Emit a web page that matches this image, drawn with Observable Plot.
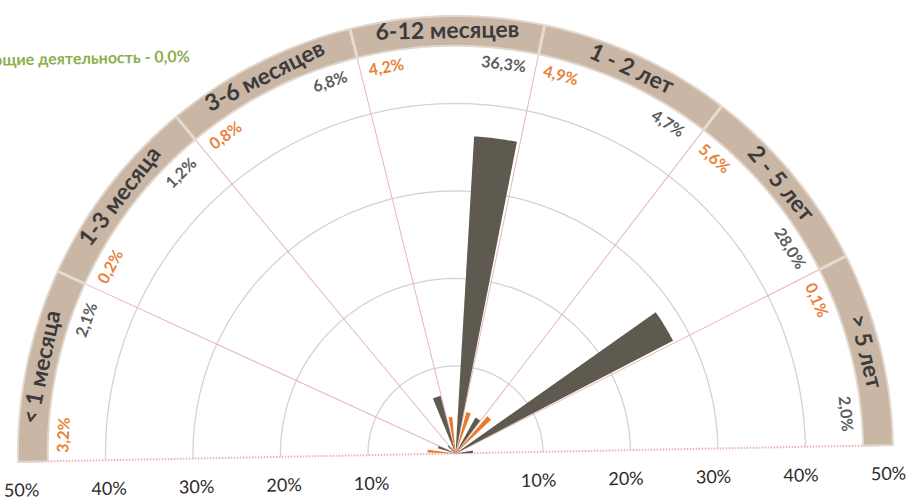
<!DOCTYPE html>
<html>
<head>
<meta charset="utf-8">
<script src="https://cdn.jsdelivr.net/npm/d3@7"></script>
<script src="https://cdn.jsdelivr.net/npm/@observablehq/plot@0.6"></script>
<style>
  html, body { margin: 0; padding: 0; background: #ffffff; }
  #chart svg { display: block; transform: rotate(-1.1deg); transform-origin: 455px 453px; }
</style>
</head>
<body>
<div id="chart"></div>
<script>
// ---- data ----
const categories = ["< 1 месяца", "1-3 месяца", "3-6 месяцев", "6-12 месяцев", "1 - 2 лет", "2 - 5 лет", "> 5 лет"];
const orangeValues = [3.2, 0.2, 0.8, 4.2, 4.9, 5.6, 0.1];
const grayValues = [2.1, 1.2, 6.8, 36.3, 4.7, 28.0, 2.0];
const gridTicks = [10, 20, 30, 40];
const axisTicks = [10, 20, 30, 40, 50];
const noteText = "Компании, прекращающие деятельность - 0,0%";

// ---- geometry helpers ----
const cx = 455, cy = 453, R = 437.5;   // pixel centre and radius of 50%
const bandInner = 46.6, bandOuter = 50, labelR = 44.8, catR = 48.3;
const step = 180 / categories.length;
const rad = a => a * Math.PI / 180;
const px = (r, a) => r * Math.cos(rad(a));
const py = (r, a) => r * Math.sin(rad(a));
const fmt = v => v.toFixed(1).replace(".", ",") + "%";

function arc(r, a1, a2, n = 60) {
  const pts = [];
  for (let i = 0; i <= n; i++) {
    const a = a1 + (a2 - a1) * i / n;
    pts.push({x: px(r, a), y: py(r, a)});
  }
  return pts;
}

// grid arcs
const gridPts = gridTicks.flatMap(t => arc(t, 0, 180, 120).map(p => ({...p, z: t})));

// band annulus
const bandPts = [...arc(bandOuter, 0, 180, 180), ...arc(bandInner, 180, 0, 180)];

// sector edges
const edges = d3.range(1, categories.length).map(i => 180 - step * i);

// bars (wedges)
function wedge(v, a1, a2, id) {
  return [{x: 0, y: 0, id}, ...arc(v, a1, a2, 16).map(p => ({...p, id}))];
}
const orangeBars = categories.flatMap((c, i) => {
  const high = 180 - step * i;
  return wedge(orangeValues[i], high - 9, high - 3, "o" + i);
});
const grayBars = categories.flatMap((c, i) => {
  const low = 180 - step * (i + 1);
  return wedge(grayValues[i], low + 0.6, low + 8.4, "g" + i);
});

// value labels
const valueLabels = categories.flatMap((c, i) => {
  const high = 180 - step * i, low = 180 - step * (i + 1);
  const ao = high - 3.8, ag = low + 4.7;
  return [
    {x: px(labelR, ao), y: py(labelR, ao), text: fmt(orangeValues[i]), rot: 90 - ao, color: "#e8823a"},
    {x: px(labelR, ag), y: py(labelR, ag), text: fmt(grayValues[i]), rot: 90 - ag, color: "#5c5c5c"}
  ];
});

// category labels
const catLabels = categories.map((c, i) => {
  const a = 180 - step * (i + 0.5);
  return {x: px(catR, a), y: py(catR, a), text: c, rot: 90 - a};
});

// bottom axis labels
const axisLabels = [
  ...axisTicks.map(t => ({x: -t, text: t + "%", side: "left"})),
  ...axisTicks.map(t => ({x: t, text: t + "%", side: "right"}))
];

const chart = Plot.plot({
  width: 908,
  height: 500,
  margin: 0,
  style: {fontFamily: "Lato, 'Open Sans', sans-serif", background: "#ffffff"},
  x: {domain: [-50, 50], range: [cx - R, cx + R], axis: null},
  y: {domain: [0, 50], range: [cy, cy - R], axis: null},
  marks: [
    Plot.line(gridPts, {x: "x", y: "y", z: "z", stroke: "#d4d2d8", strokeWidth: 1.3}),
    Plot.link(edges, {x1: 0, y1: 0, x2: a => px(bandInner, a), y2: a => py(bandInner, a), stroke: "#e8b7b7", strokeWidth: 1}),
    Plot.link([0], {x1: -49, y1: 0, x2: 49, y2: 0, stroke: "#e9b3b3", strokeWidth: 2, strokeDasharray: "1.5,1.5"}),
    Plot.line(bandPts, {x: "x", y: "y", fill: "#c9b6a5", stroke: "#e2d7cd", strokeWidth: 2, curve: "linear-closed"}),
    Plot.link(edges, {x1: a => px(bandInner, a), y1: a => py(bandInner, a), x2: a => px(bandOuter, a), y2: a => py(bandOuter, a), stroke: "#e6dbd1", strokeWidth: 3}),
    Plot.line(grayBars, {x: "x", y: "y", z: "id", fill: "#5f5a50", stroke: "none", curve: "linear-closed"}),
    Plot.line(orangeBars, {x: "x", y: "y", z: "id", fill: "#ea7a2b", stroke: "none", curve: "linear-closed"}),
    Plot.text(valueLabels, {x: "x", y: "y", text: "text", rotate: "rot", fill: d => d.color, fontSize: 16, fontWeight: "bold"}),
    Plot.text(catLabels, {x: "x", y: "y", text: "text", rotate: "rot", fill: "#3b3b3b", fontSize: 23, fontWeight: "bold"}),
    Plot.text(axisLabels.filter(d => d.side === "left"), {x: "x", y: -3.3, dx: 3, text: "text", fill: "#2b2b2b", fontSize: 18}),
    Plot.text(axisLabels.filter(d => d.side === "right"), {x: "x", y: -3.3, dx: -5, text: "text", fill: "#2b2b2b", fontSize: 18}),
    Plot.text([noteText], {frameAnchor: "top-left", dx: 197, dy: 45, textAnchor: "end", fill: "#8aaf4c", fontSize: 16, fontWeight: "bold"})
  ]
});
document.getElementById("chart").appendChild(chart);
</script>
</body>
</html>
